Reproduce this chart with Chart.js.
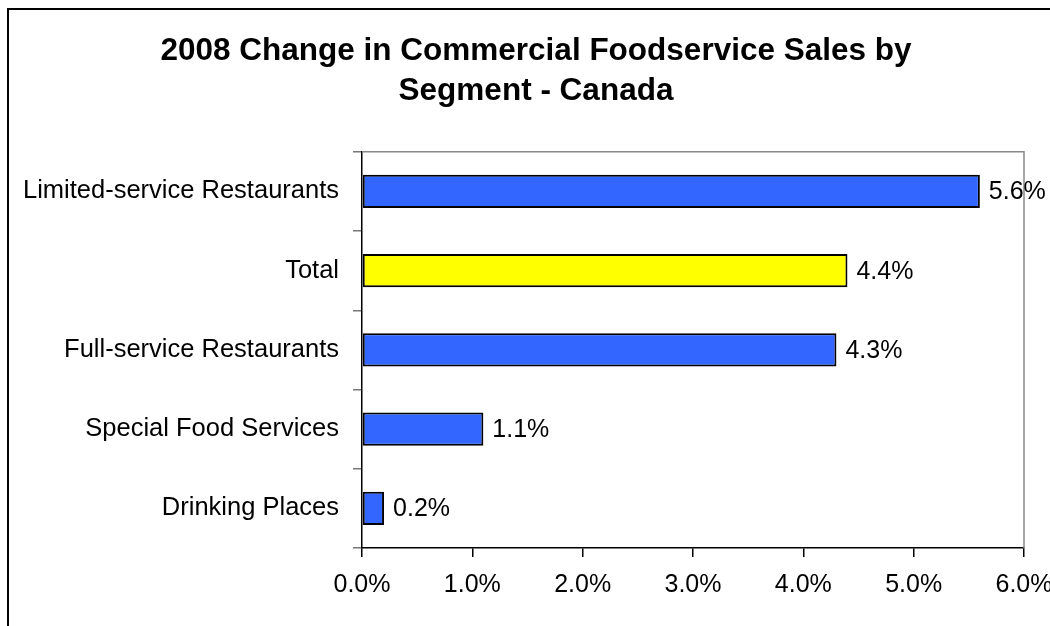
<!DOCTYPE html>
<html>
<head>
<meta charset="utf-8">
<script src="https://cdn.jsdelivr.net/npm/chart.js@4/dist/chart.umd.min.js"></script>
<style>
  html, body { margin: 0; padding: 0; background: #fff; }
  #wrap { width: 1050px; height: 626px; }
</style>
</head>
<body>
<div id="wrap"><canvas id="salesChart" width="1050" height="626"></canvas></div>
<script>
const segments = ["Limited-service Restaurants", "Total", "Full-service Restaurants", "Special Food Services", "Drinking Places"];
const changes = [5.6, 4.4, 4.3, 1.1, 0.2];
const barColors = ["#3366FF", "#FFFF00", "#3366FF", "#3366FF", "#3366FF"];
const xTicks = [0, 1, 2, 3, 4, 5, 6];

// outer frame + grey plot border
const framePlugin = {
    id: "frame",
    beforeDraw(chart) {
        const ctx = chart.ctx;
        ctx.save();
        ctx.fillStyle = "#fff";
        ctx.fillRect(0, 0, chart.width, chart.height);
        ctx.strokeStyle = "#000";
        ctx.lineWidth = 2;
        ctx.strokeRect(8, 9, 1200, 800);
        ctx.restore();
        // let long category labels run past the y axis box
        chart.scales.y._computeLabelArea = () => null;
    },
    beforeDatasetsDraw(chart) {
        const a = chart.chartArea;
        const ctx = chart.ctx;
        ctx.save();
        ctx.strokeStyle = "#888";
        ctx.lineWidth = 1.5;
        ctx.beginPath();
        ctx.moveTo(a.left, a.top);
        ctx.lineTo(a.right, a.top);
        ctx.lineTo(a.right, a.bottom);
        ctx.stroke();
        ctx.restore();
    }
};

const valueLabels = {
    id: "valueLabels",
    afterDatasetsDraw(chart) {
        const ctx = chart.ctx;
        const meta = chart.getDatasetMeta(0);
        ctx.save();
        ctx.font = "25px Arial, 'Liberation Sans'";
        ctx.fillStyle = "#000";
        ctx.textBaseline = "middle";
        ctx.textAlign = "left";
        meta.data.forEach((bar, i) => {
            ctx.fillText(changes[i].toFixed(1) + "%", bar.x + 9, bar.y + 1);
        });
        ctx.restore();
    }
};

new Chart(document.getElementById("salesChart"), {
    type: "bar",
    data: {
        labels: segments,
        datasets: [{
            data: changes,
            backgroundColor: barColors,
            borderColor: "#000",
            borderWidth: 2,
            borderSkipped: false,
            categoryPercentage: 1,
            barPercentage: 0.42
        }]
    },
    options: {
        indexAxis: "y",
        responsive: false,
        animation: false,
        layout: { padding: { left: 48, right: 26, top: 0, bottom: 0 } },
        plugins: {
            legend: { display: false },
            tooltip: { enabled: false },
            title: {
                display: true,
                text: ["2008 Change in Commercial Foodservice Sales by", "Segment - Canada"],
                color: "#000",
                font: { family: "Arial, 'Liberation Sans'", size: 31.5, weight: "bold", lineHeight: 1.25 },
                padding: { top: 32, bottom: 41 }
            }
        },
        scales: {
            x: {
                min: 0,
                max: 6,
                afterFit(scale) {
                    scale.height = 78;
                    scale.paddingLeft = 0;
                    scale.paddingRight = 0;
                },
                afterBuildTicks(scale) { scale.ticks = xTicks.map(v => ({ value: v })); },
                border: { display: true, color: "#000", width: 1.5 },
                grid: { drawOnChartArea: false, color: "#000", tickLength: 9, lineWidth: 1.5 },
                ticks: {
                    color: "#000",
                    padding: 13,
                    font: { family: "Arial, 'Liberation Sans'", size: 25 },
                    callback: v => v.toFixed(1) + "%"
                }
            },
            y: {
                afterFit(scale) {
                    scale.width = 314;
                    scale.paddingTop = 0;
                    scale.paddingBottom = 0;
                },
                border: { display: true, color: "#000", width: 1.5 },
                grid: { drawOnChartArea: false, color: "#777", tickLength: 9, lineWidth: 1.5, offset: true },
                ticks: {
                    color: "#000",
                    padding: 14,
                    font: { family: "Arial, 'Liberation Sans'", size: 25.5 }
                }
            }
        }
    },
    plugins: [framePlugin, valueLabels]
});
</script>
</body>
</html>
